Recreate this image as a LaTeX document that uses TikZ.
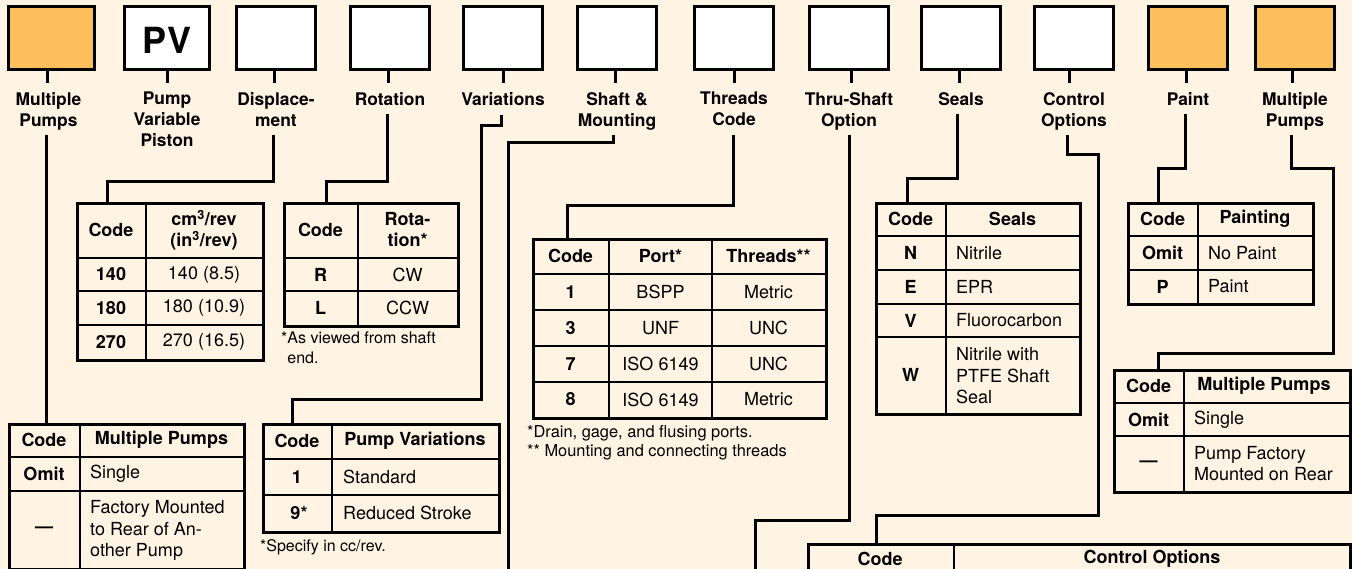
\documentclass[tikz,border=0pt]{standalone}
\usepackage{fontspec}
\setmainfont{TeX Gyre Heros}
\usetikzlibrary{calc}
\definecolor{bgc}{HTML}{FFF4E3}
\definecolor{orng}{HTML}{FDBF5B}
\begin{document}
\begin{tikzpicture}[x=1pt,y=-1pt,
  codebox/.style={draw=black, line width=3pt, inner sep=0pt, anchor=north west, fill=white, minimum height=63},
  lbl/.style={font=\bfseries\fontsize{17.4}{21}\selectfont, align=center, anchor=north, inner sep=0pt},
  conn/.style={line width=3pt},
  tabframe/.style={draw=black, line width=2.6pt, inner sep=0pt, anchor=north west},
  grid/.style={line width=2.6pt},
  hd/.style={font=\bfseries\fontsize{18}{21}\selectfont, align=center, inner sep=0pt},
  cellb/.style={font=\bfseries\fontsize{18}{21.5}\selectfont, align=center, inner sep=0pt},
  cellc/.style={font=\fontsize{18}{21.5}\selectfont, align=center, inner sep=0pt},
  celll/.style={font=\fontsize{18}{21.5}\selectfont, align=left, anchor=west, inner sep=0pt},
  note/.style={font=\fontsize{16}{20}\selectfont, align=left, anchor=west, inner sep=0pt}]
\useasboundingbox (0,0) rectangle (1352,569);
\fill[bgc] (0,0) rectangle (1352,569);
\clip (0,0) rectangle (1352,569);

% ---------- code boxes ----------
\node[codebox, fill=orng, minimum width=86] (b1) at (7,5) {};
\node[codebox, minimum width=85] (b2) at (123,5) {};
\node[font=\bfseries\fontsize{36}{36}\selectfont, inner sep=0pt] (pv) at ($(b2.center)+(0,2)$) {PV};
\node[codebox, minimum width=79] (b3) at (235,5) {};
\node[codebox, minimum width=79] (b4) at (349,5) {};
\node[codebox, minimum width=79] (b5) at (462,5) {};
\node[codebox, minimum width=79] (b6) at (576,5) {};
\node[codebox, minimum width=79] (b7) at (693,5) {};
\node[codebox, minimum width=79] (b8) at (808,5) {};
\node[codebox, minimum width=79] (b9) at (920,5) {};
\node[codebox, minimum width=79] (b10) at (1033,5) {};
\node[codebox, fill=orng, minimum width=79] (b11) at (1147,5) {};
\node[codebox, fill=orng, minimum width=79] (b12) at (1254,5) {};

% stubs
\draw[conn] ($(b1.south)+(-4,0)$) -- ++(0,12);
\draw[conn] (b2.south) -- ++(0,12);
\draw[conn] ($(b3.south)+(-1.5,0)$) -- ++(0,12);
\draw[conn] ($(b4.south)+(-1.5,0)$) -- ++(0,12);
\draw[conn] (b5.south) -- ++(0,12);
\draw[conn] ($(b6.south)+(-2,0)$) -- ++(0,12);
\draw[conn] (b7.south) -- ++(0,12);
\draw[conn] ($(b8.south)+(2,0)$) -- ++(0,12);
\draw[conn] ($(b9.south)+(-2,0)$) -- ++(0,12);
\draw[conn] ($(b10.south)+(-5,0)$) -- ++(0,12);
\draw[conn] ($(b11.south)+(-1.5,0)$) -- ++(0,12);
\draw[conn] ($(b12.south)+(-2.5,0)$) -- ++(0,12);

% labels
\coordinate (ly) at (0,92);
\node[lbl] (l1) at ($(b1.south |- ly)+(-3,0)$) {Multiple\\Pumps};
\node[lbl] (l2) at (b2.south |- ly) {Pump\\Variable\\Piston};
\node[lbl] (l3) at (b3.south |- ly) {Displace-\\ment};
\node[lbl] (l4) at (b4.south |- ly) {Rotation};
\node[lbl] (l5) at (b5.south |- ly) {Variations};
\node[lbl] (l6) at (b6.south |- ly) {Shaft \&\\Mounting};
\node[lbl] (l7) at (b7.south |- ly) {Threads\\Code};
\node[lbl] (l8) at (b8.south |- ly) {Thru-Shaft\\Option};
\node[lbl] (l9) at (b9.south |- ly) {Seals};
\node[lbl] (l10) at (b10.south |- ly) {Control\\Options};
\node[lbl] (l11) at (b11.south |- ly) {Paint};
\node[lbl] (l12) at (b12.south |- ly) {Multiple\\Pumps};

% ---------- Displacement table ----------
\node[tabframe, minimum width=186, minimum height=157] (tdisp) at (76,202) {};
\draw[grid] (146,202) -- (146,359);
\draw[grid] (76,258) -- (262,258) (76,291) -- (262,291) (76,325) -- (262,325);
\node[hd] (td1) at (111,230) {Code};
\node[hd] (td2) at (204,230) {cm\textsuperscript{3}/rev\\(in\textsuperscript{3}/rev)};
\node[cellb] (td3) at (111,274.5) {140};
\node[cellc] (td4) at (204,274.5) {140 (8.5)};
\node[cellb] (td5) at (111,308) {180};
\node[cellc] (td6) at (204,308) {180 (10.9)};
\node[cellb] (td7) at (111,342) {270};
\node[cellc] (td8) at (204,342) {270 (16.5)};

% ---------- Rotation table ----------
\node[tabframe, minimum width=174, minimum height=123] (trot) at (283,202) {};
\draw[grid] (358,202) -- (358,325);
\draw[grid] (283,258) -- (457,258) (283,291) -- (457,291);
\node[hd] (tr1) at (320.5,230) {Code};
\node[hd] (tr2) at (407.5,230) {Rota-\\tion*};
\node[cellb] (tr3) at (320.5,274.5) {R};
\node[cellc] (tr4) at (407.5,274.5) {CW};
\node[cellb] (tr5) at (320.5,308) {L};
\node[cellc] (tr6) at (407.5,308) {CCW};
\node[note] (tr7) at (281,348) {*As viewed from shaft\\\hphantom{*}end.};

% ---------- Threads table ----------
\node[tabframe, minimum width=293, minimum height=179] (tthr) at (532,238) {};
\draw[grid] (609,238) -- (609,417) (712,238) -- (712,417);
\draw[grid] (532,274) -- (825,274) (532,310) -- (825,310) (532,346) -- (825,346) (532,382) -- (825,382);
\node[hd] (tt1) at (570.5,256) {Code};
\node[hd] (tt2) at (660.5,256) {Port*};
\node[hd] (tt3) at (768.5,256) {Threads**};
\node[cellb] (tt4) at (570.5,292) {1};
\node[cellc] (tt5) at (660.5,292) {BSPP};
\node[cellc] (tt6) at (768.5,292) {Metric};
\node[cellb] (tt7) at (570.5,328) {3};
\node[cellc] (tt8) at (660.5,328) {UNF};
\node[cellc] (tt9) at (768.5,328) {UNC};
\node[cellb] (tt10) at (570.5,364) {7};
\node[cellc] (tt11) at (660.5,364) {ISO 6149};
\node[cellc] (tt12) at (768.5,364) {UNC};
\node[cellb] (tt13) at (570.5,399.5) {8};
\node[cellc] (tt14) at (660.5,399.5) {ISO 6149};
\node[cellc] (tt15) at (768.5,399.5) {Metric};
\node[note, font=\fontsize{16.4}{20}\selectfont] (tt16) at (527,433) {*Drain, gage, and flusing ports.};
\node[note, font=\fontsize{16.4}{20}\selectfont] (tt17) at (527,452.5) {** Mounting and connecting threads};

% ---------- Seals table ----------
\node[tabframe, minimum width=204, minimum height=211] (tseal) at (875,202) {};
\draw[grid] (946,202) -- (946,413);
\draw[grid] (875,236) -- (1079,236) (875,270) -- (1079,270) (875,304) -- (1079,304) (875,337) -- (1079,337);
\node[hd] (ts1) at (910.5,219) {Code};
\node[hd] (ts2) at (1012.5,219) {Seals};
\node[cellb] (ts3) at (910.5,253) {N};
\node[celll] (ts4) at (956,253) {Nitrile};
\node[cellb] (ts5) at (910.5,287) {E};
\node[celll] (ts6) at (956,287) {EPR};
\node[cellb] (ts7) at (910.5,320.5) {V};
\node[celll] (ts8) at (956,320.5) {Fluorocarbon};
\node[cellb] (ts9) at (910.5,375) {W};
\node[celll] (ts10) at (956,376) {Nitrile with\\PTFE Shaft\\Seal};

% ---------- Paint table ----------
\node[tabframe, minimum width=185, minimum height=101] (tpaint) at (1127,202) {};
\draw[grid] (1198,202) -- (1198,303);
\draw[grid] (1127,236) -- (1312,236) (1127,270) -- (1312,270);
\node[hd] (tp1) at (1162.5,219) {Code};
\node[hd] (tp2) at (1255,219) {Painting};
\node[cellb] (tp3) at (1162.5,253) {Omit};
\node[celll] (tp4) at (1208,253) {No Paint};
\node[cellb] (tp5) at (1162.5,286.5) {P};
\node[celll] (tp6) at (1208,286.5) {Paint};

% ---------- Multiple pumps (right) ----------
\node[tabframe, minimum width=236, minimum height=122] (tmpr) at (1113,369) {};
\draw[grid] (1184,369) -- (1184,491);
\draw[grid] (1113,403) -- (1349,403) (1113,436) -- (1349,436);
\node[hd] (tm1) at (1148.5,386) {Code};
\node[hd] (tm2) at (1264,386) {Multiple Pumps};
\node[cellb] (tm3) at (1148.5,419.5) {Omit};
\node[celll] (tm4) at (1194,419.5) {Single};
\node[cellb] (tm5) at (1148.5,463.5) {\textemdash};
\node[celll] (tm6) at (1194,463.5) {Pump Factory\\Mounted on Rear};

% ---------- Multiple pumps (left) ----------
\node[tabframe, minimum width=235, minimum height=145] (tmpl) at (8,423) {};
\draw[grid] (80,423) -- (80,568);
\draw[grid] (8,457) -- (243,457) (8,491) -- (243,491);
\node[hd] (tl1) at (44,440) {Code};
\node[hd] (tl2) at (161.5,440) {Multiple Pumps};
\node[cellb] (tl3) at (44,474) {Omit};
\node[celll] (tl4) at (90,474) {Single};
\node[cellb] (tl5) at (44,529.5) {\textemdash};
\node[celll] (tl6) at (90,530.5) {Factory Mounted\\to Rear of An-\\other Pump};

% ---------- Variations ----------
\node[tabframe, minimum width=236, minimum height=108] (tvar) at (262,423) {};
\draw[grid] (332,423) -- (332,531);
\draw[grid] (262,459) -- (498,459) (262,495) -- (498,495);
\node[hd] (tv1) at (297,441) {Code};
\node[hd] (tv2) at (415,441) {Pump Variations};
\node[cellb] (tv3) at (297,477) {1};
\node[celll] (tv4) at (343,477) {Standard};
\node[cellb] (tv5) at (299,513) {9*};
\node[celll] (tv6) at (343,513) {Reduced Stroke};
\node[note] (tv7) at (260,547.5) {*Specify in cc/rev.};

% ---------- Control options (continues below) ----------
\node[tabframe, minimum width=542, minimum height=80] (tctl) at (807,543) {};
\draw[grid] (954,543) -- (954,623);
\node[hd] (tc1) at (880,559) {Code};
\node[hd] (tc2) at (1152,559) {Control Options};

% ---------- connectors ----------
\coordinate (mlS) at (46,135);
\coordinate (dispS) at (273,135);
\coordinate (rotS) at (387,114);
\coordinate (varS) at (501,115);
\coordinate (shS) at (613,135);
\coordinate (shE) at (508,575);
\coordinate (thS) at (733,135);
\coordinate (tsS) at (849,135);
\coordinate (tsE) at (755,575);
\coordinate (seS) at (957,114);
\coordinate (coS) at (1067,135);
\coordinate (paS) at (1185,114);
\coordinate (mrS) at (1291,135);

\draw[conn] (mlS) -- ($(tmpl.north west)+(38,0)$);
\draw[conn] (dispS) |- ($(tdisp.north west)+(31,-20)$) -- ($(tdisp.north west)+(31,0)$);
\draw[conn] (rotS) |- ($(trot.north west)+(43,-20)$) -- ($(trot.north west)+(43,0)$);
\draw[conn] (varS) -- ++(0,11) -| ($(tvar.north west)+(219,-24)$) -| ($(tvar.north west)+(30,0)$);
\draw[conn] (shS) -- ++(0,8) -| (shE);
\draw[conn] (thS) |- ($(tthr.north west)+(35,-32)$) -- ($(tthr.north west)+(35,0)$);
\draw[conn] (tsS) |- ($(tsE)+(0,-55)$) -- (tsE);
\draw[conn] (seS) |- ($(tseal.north west)+(32,-23)$) -- ($(tseal.north west)+(32,0)$);
\draw[conn] (coS) -- ++(0,20) -| ($(tctl.north west)+(291,-28)$) -| ($(tctl.north west)+(69,0)$);
\draw[conn] (paS) |- ($(tpaint.north west)+(31,-33)$) -- ($(tpaint.north west)+(31,0)$);
\draw[conn] (mrS) -- ++(0,34) -| ($(tmpr.north west)+(220,-16)$) -| ($(tmpr.north west)+(45,0)$);
\end{tikzpicture}
\end{document}
